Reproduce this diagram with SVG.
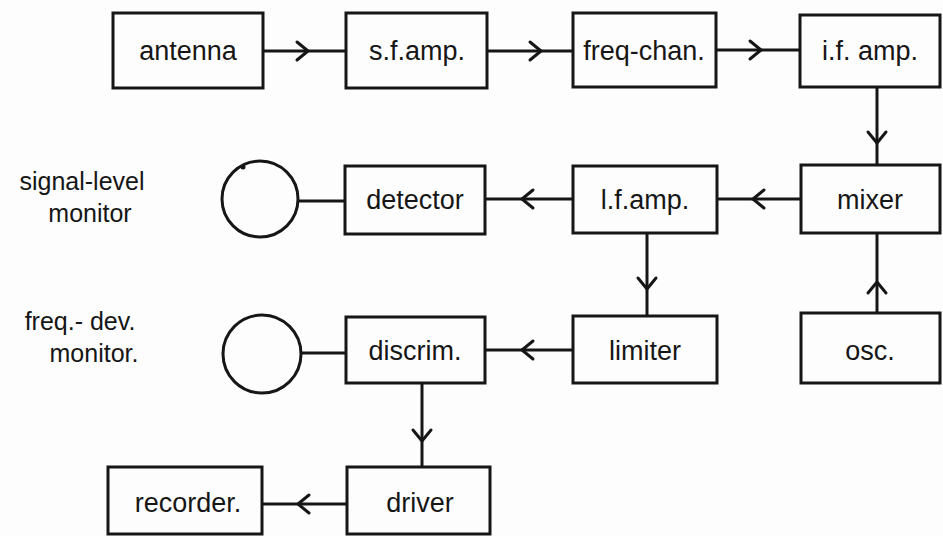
<svg xmlns="http://www.w3.org/2000/svg" width="943" height="536" viewBox="0 0 943 536">
  <style>
    .box { fill: none; stroke: #161616; stroke-width: 3; }
    .lbl { font-family: "Liberation Sans", "DejaVu Sans", sans-serif; font-size: 27px; fill: #161616; text-anchor: middle; }
    .side { font-family: "Liberation Sans", "DejaVu Sans", sans-serif; font-size: 25px; fill: #161616; text-anchor: middle; }
    .wire { fill: none; stroke: #161616; stroke-width: 3; }
    .meter { fill: none; stroke: #161616; stroke-width: 3; }
  </style>
  <defs>
    <!-- open chevron placed at the middle vertex of each connector -->
    <marker id="chev" markerUnits="userSpaceOnUse" orient="auto" refX="0" refY="0" markerWidth="30" markerHeight="30" overflow="visible">
      <path d="M -11 -9 L 0 0 L -11 9" fill="none" stroke="#161616" stroke-width="3" stroke-linejoin="round" stroke-linecap="round"/>
    </marker>
  </defs>
  <rect x="0" y="0" width="943" height="536" fill="#fdfdfd"/>

  <!-- row 1 -->
  <g id="antenna"><rect class="box" x="113" y="13" width="150" height="75"/><text class="lbl" x="188" y="60">antenna</text></g>
  <g id="sf-amp"><rect class="box" x="346" y="13" width="141" height="75"/><text class="lbl" x="417" y="60">s.f.amp.</text></g>
  <g id="freq-chan"><rect class="box" x="573" y="13" width="143" height="74"/><text class="lbl" x="644" y="60">freq-chan.</text></g>
  <g id="if-amp"><rect class="box" x="800" y="15" width="140" height="72"/><text class="lbl" x="870" y="60">i.f. amp.</text></g>

  <!-- row 2 -->
  <g id="signal-level-monitor">
    <text class="side" x="82" y="190">signal-level</text>
    <text class="side" x="90" y="222">monitor</text>
    <circle class="meter" cx="260" cy="199" r="38"/>
    <circle cx="243" cy="167" r="2.5" fill="#161616"/>
  </g>
  <g id="detector"><rect class="box" x="345" y="166" width="140" height="68"/><text class="lbl" x="415" y="209">detector</text></g>
  <g id="lf-amp"><rect class="box" x="573" y="166" width="144" height="67"/><text class="lbl" x="645" y="209">l.f.amp.</text></g>
  <g id="mixer"><rect class="box" x="801" y="165" width="139" height="68"/><text class="lbl" x="870" y="209">mixer</text></g>

  <!-- row 3 -->
  <g id="freq-dev-monitor">
    <text class="side" x="80" y="330">freq.- dev.</text>
    <text class="side" x="94" y="362">monitor.</text>
    <circle class="meter" cx="262" cy="354" r="39"/>
  </g>
  <g id="discrim"><rect class="box" x="346" y="317" width="139" height="66"/><text class="lbl" x="415" y="360">discrim.</text></g>
  <g id="limiter"><rect class="box" x="573" y="316" width="144" height="67"/><text class="lbl" x="645" y="360">limiter</text></g>
  <g id="osc"><rect class="box" x="801" y="313" width="139" height="70"/><text class="lbl" x="870" y="360">osc.</text></g>

  <!-- row 4 -->
  <g id="recorder"><rect class="box" x="108" y="467" width="154" height="67"/><text class="lbl" x="188" y="512">recorder.</text></g>
  <g id="driver"><rect class="box" x="347" y="467" width="143" height="67"/><text class="lbl" x="420" y="512">driver</text></g>

  <g id="connectors">
    <polyline class="wire" points="263,51 308,51 346,51" marker-mid="url(#chev)"/>
    <polyline class="wire" points="487,51 541,51 573,51" marker-mid="url(#chev)"/>
    <polyline class="wire" points="716,50 761,50 800,50" marker-mid="url(#chev)"/>
    <polyline class="wire" points="877,87 877,143 877,165" marker-mid="url(#chev)"/>
    <polyline class="wire" points="801,199 753,199 717,199" marker-mid="url(#chev)"/>
    <polyline class="wire" points="573,199 522,199 485,199" marker-mid="url(#chev)"/>
    <line class="wire" x1="298" y1="201" x2="345" y2="201"/>
    <polyline class="wire" points="647,233 647,289 647,316" marker-mid="url(#chev)"/>
    <polyline class="wire" points="877,313 877,282 877,233" marker-mid="url(#chev)"/>
    <polyline class="wire" points="573,350 522,350 485,350" marker-mid="url(#chev)"/>
    <line class="wire" x1="301" y1="353" x2="346" y2="353"/>
    <polyline class="wire" points="422,383 422,441 422,467" marker-mid="url(#chev)"/>
    <polyline class="wire" points="347,504 298,504 262,504" marker-mid="url(#chev)"/>
  </g>
</svg>
